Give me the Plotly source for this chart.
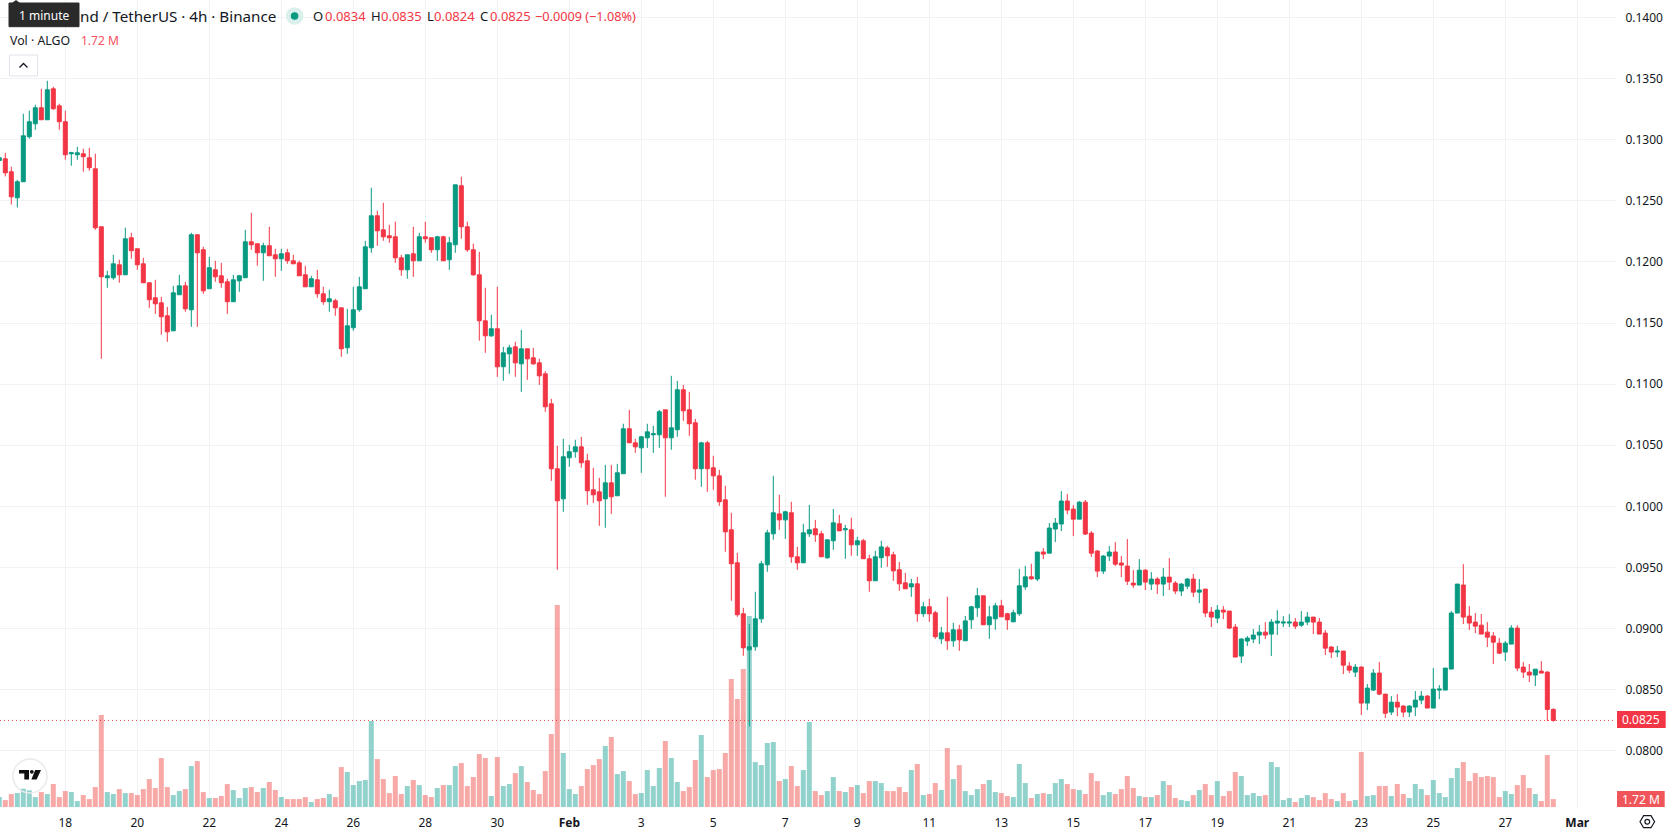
import pandas as pd
import plotly.graph_objects as go

# ALGO/USDT 4h candles, first bar 16 Jan 2023 04:00
first_bar = "2023-01-16 04:00"

opens = [
    0.12829, 0.12843, 0.12737, 0.12524, 0.12655, 0.13023, 0.13129, 0.13260, 0.13162, 0.13415,
    0.13276, 0.13146, 0.12884, 0.12876, 0.12884, 0.12851, 0.12761, 0.12287, 0.11870, 0.11870,
    0.11976, 0.11894, 0.12197, 0.12107, 0.11984, 0.11829, 0.11706, 0.11665, 0.11559, 0.11436,
    0.11731, 0.11804, 0.11608, 0.12222, 0.12099, 0.11780, 0.11935, 0.11886, 0.11837, 0.11674,
    0.11845, 0.11870, 0.12164, 0.12148, 0.12074, 0.12132, 0.12058, 0.12025, 0.12074, 0.12009,
    0.11992, 0.11894, 0.11796, 0.11853, 0.11739, 0.11674, 0.11682, 0.11624, 0.11297, 0.11461,
    0.11608, 0.11780, 0.12115, 0.12377, 0.12262, 0.12213, 0.12205, 0.12033, 0.11935, 0.12066,
    0.12009, 0.12205, 0.12197, 0.12099, 0.12205, 0.12017, 0.12140, 0.12622, 0.12287, 0.12099,
    0.11894, 0.11518, 0.11395, 0.11453, 0.11142, 0.11248, 0.11305, 0.11166, 0.11289, 0.11215,
    0.11174, 0.11084, 0.10839, 0.10308, 0.10062, 0.10398, 0.10447, 0.10487, 0.10373, 0.10136,
    0.10119, 0.10062, 0.10193, 0.10087, 0.10267, 0.10635, 0.10520, 0.10479, 0.10561, 0.10586,
    0.10586, 0.10790, 0.10561, 0.10627, 0.10954, 0.10790, 0.10684, 0.10308, 0.10520, 0.10316,
    0.10250, 0.10054, 0.09809, 0.09539, 0.09122, 0.08827, 0.08852, 0.09081, 0.09523, 0.09776,
    0.09939, 0.09890, 0.09948, 0.09588, 0.09539, 0.09776, 0.09817, 0.09776, 0.09580, 0.09719,
    0.09858, 0.09809, 0.09809, 0.09686, 0.09719, 0.09572, 0.09392, 0.09580, 0.09661, 0.09604,
    0.09482, 0.09375, 0.09342, 0.09367, 0.09122, 0.09179, 0.09130, 0.08917, 0.08966, 0.08901,
    0.08991, 0.08901, 0.09073, 0.09171, 0.09269, 0.09032, 0.09081, 0.09187, 0.09122, 0.09056,
    0.09122, 0.09342, 0.09424, 0.09406, 0.09627, 0.09618, 0.09815, 0.09856, 0.10044, 0.09978,
    0.09896, 0.10035, 0.09782, 0.09635, 0.09471, 0.09594, 0.09627, 0.09537, 0.09512, 0.09373,
    0.09357, 0.09479, 0.09365, 0.09406, 0.09365, 0.09422, 0.09373, 0.09308, 0.09348, 0.09406,
    0.09299, 0.09324, 0.09136, 0.09087, 0.09152, 0.09144, 0.09013, 0.08776, 0.08899, 0.08915,
    0.08948, 0.08972, 0.08956, 0.09046, 0.09046, 0.09046, 0.09054, 0.09029, 0.09054, 0.09095,
    0.09054, 0.08964, 0.08850, 0.08809, 0.08817, 0.08694, 0.08645, 0.08686, 0.08392, 0.08498,
    0.08637, 0.08465, 0.08318, 0.08399, 0.08367, 0.08318, 0.08359, 0.08416, 0.08449, 0.08351,
    0.08498, 0.08498, 0.08670, 0.09128, 0.09357, 0.09103, 0.09054, 0.09029, 0.08972, 0.08940,
    0.08882, 0.08809, 0.08874, 0.09005, 0.08686, 0.08645, 0.08621, 0.08653, 0.08645, 0.08340,
]

highs = [
    0.12870, 0.12892, 0.12778, 0.12671, 0.13211, 0.13236, 0.13285, 0.13415, 0.13481, 0.13432,
    0.13293, 0.13236, 0.12900, 0.12941, 0.12925, 0.12933, 0.12884, 0.12287, 0.11927, 0.12058,
    0.12017, 0.12279, 0.12238, 0.12107, 0.12033, 0.11829, 0.11853, 0.11714, 0.11632, 0.11804,
    0.11894, 0.11837, 0.12238, 0.12222, 0.12123, 0.12041, 0.12009, 0.11992, 0.11862, 0.11894,
    0.11894, 0.12262, 0.12401, 0.12148, 0.12156, 0.12287, 0.12107, 0.12107, 0.12107, 0.12058,
    0.12009, 0.11968, 0.11886, 0.11935, 0.11796, 0.11772, 0.11698, 0.11624, 0.11616, 0.11796,
    0.11878, 0.12172, 0.12606, 0.12418, 0.12483, 0.12303, 0.12328, 0.12058, 0.12058, 0.12287,
    0.12238, 0.12328, 0.12197, 0.12213, 0.12213, 0.12205, 0.12630, 0.12696, 0.12328, 0.12148,
    0.12082, 0.11788, 0.11567, 0.11796, 0.11305, 0.11322, 0.11346, 0.11444, 0.11289, 0.11297,
    0.11207, 0.11106, 0.10880, 0.10496, 0.10553, 0.10504, 0.10545, 0.10569, 0.10430, 0.10316,
    0.10234, 0.10340, 0.10340, 0.10348, 0.10676, 0.10790, 0.10553, 0.10577, 0.10676, 0.10659,
    0.10790, 0.10790, 0.11068, 0.11027, 0.10994, 0.10937, 0.10716, 0.10528, 0.10536, 0.10414,
    0.10299, 0.10169, 0.09948, 0.09621, 0.09171, 0.09040, 0.09302, 0.09555, 0.09809, 0.10250,
    0.10095, 0.09964, 0.10038, 0.09670, 0.09858, 0.10013, 0.09890, 0.09800, 0.09727, 0.09980,
    0.09931, 0.09849, 0.09907, 0.09751, 0.09735, 0.09604, 0.09637, 0.09719, 0.09678, 0.09629,
    0.09547, 0.09457, 0.09408, 0.09424, 0.09220, 0.09244, 0.09146, 0.09015, 0.09261, 0.09048,
    0.09032, 0.09105, 0.09187, 0.09334, 0.09269, 0.09187, 0.09212, 0.09236, 0.09130, 0.09154,
    0.09490, 0.09514, 0.09531, 0.09627, 0.09659, 0.09864, 0.09905, 0.10125, 0.10101, 0.10011,
    0.10044, 0.10052, 0.09798, 0.09643, 0.09602, 0.09676, 0.09708, 0.09594, 0.09733, 0.09479,
    0.09569, 0.09487, 0.09463, 0.09422, 0.09496, 0.09577, 0.09389, 0.09373, 0.09414, 0.09447,
    0.09406, 0.09324, 0.09177, 0.09193, 0.09185, 0.09144, 0.09038, 0.08923, 0.08940, 0.08997,
    0.09029, 0.09054, 0.09079, 0.09152, 0.09103, 0.09119, 0.09087, 0.09144, 0.09136, 0.09095,
    0.09087, 0.08989, 0.08858, 0.08858, 0.08817, 0.08727, 0.08711, 0.08694, 0.08547, 0.08670,
    0.08727, 0.08465, 0.08449, 0.08465, 0.08375, 0.08375, 0.08490, 0.08490, 0.08457, 0.08678,
    0.08539, 0.08678, 0.09144, 0.09365, 0.09528, 0.09185, 0.09128, 0.09120, 0.09054, 0.08972,
    0.08923, 0.08899, 0.09029, 0.09029, 0.08727, 0.08711, 0.08669, 0.08735, 0.08653, 0.08350,
]

lows = [
    0.12810, 0.12699, 0.12469, 0.12445, 0.12655, 0.13007, 0.13080, 0.13162, 0.13162, 0.13244,
    0.13080, 0.12835, 0.12786, 0.12835, 0.12737, 0.12745, 0.12262, 0.11207, 0.11788, 0.11853,
    0.11829, 0.11894, 0.12025, 0.11935, 0.11829, 0.11624, 0.11575, 0.11404, 0.11346, 0.11436,
    0.11731, 0.11592, 0.11469, 0.11469, 0.11739, 0.11780, 0.11837, 0.11788, 0.11575, 0.11674,
    0.11755, 0.11870, 0.12099, 0.11968, 0.11845, 0.12050, 0.11878, 0.11927, 0.11984, 0.11984,
    0.11886, 0.11796, 0.11796, 0.11706, 0.11649, 0.11592, 0.11559, 0.11224, 0.11248, 0.11436,
    0.11592, 0.11780, 0.12074, 0.12132, 0.12172, 0.12156, 0.11992, 0.11886, 0.11862, 0.11878,
    0.12009, 0.12156, 0.12074, 0.12009, 0.12009, 0.11935, 0.12074, 0.12189, 0.12082, 0.11886,
    0.11355, 0.11256, 0.11387, 0.11060, 0.11027, 0.11084, 0.11060, 0.10937, 0.11035, 0.11158,
    0.10994, 0.10774, 0.10209, 0.09482, 0.09956, 0.10324, 0.10398, 0.10316, 0.10013, 0.10029,
    0.09841, 0.09825, 0.09939, 0.10087, 0.10267, 0.10520, 0.10438, 0.10275, 0.10479, 0.10438,
    0.10479, 0.10079, 0.10463, 0.10569, 0.10700, 0.10577, 0.10218, 0.10160, 0.10119, 0.10136,
    0.10005, 0.09629, 0.09228, 0.09097, 0.08778, 0.08200, 0.08819, 0.09048, 0.09465, 0.09727,
    0.09809, 0.09735, 0.09539, 0.09482, 0.09539, 0.09751, 0.09710, 0.09588, 0.09572, 0.09645,
    0.09800, 0.09572, 0.09596, 0.09596, 0.09572, 0.09302, 0.09392, 0.09498, 0.09506, 0.09392,
    0.09309, 0.09326, 0.09261, 0.09056, 0.09097, 0.09056, 0.08917, 0.08876, 0.08827, 0.08852,
    0.08819, 0.08901, 0.08999, 0.09097, 0.09032, 0.08917, 0.08991, 0.09097, 0.08991, 0.09056,
    0.09105, 0.09318, 0.09400, 0.09389, 0.09569, 0.09618, 0.09708, 0.09798, 0.09937, 0.09757,
    0.09896, 0.09766, 0.09586, 0.09422, 0.09447, 0.09553, 0.09512, 0.09422, 0.09357, 0.09332,
    0.09357, 0.09316, 0.09316, 0.09283, 0.09267, 0.09316, 0.09283, 0.09267, 0.09324, 0.09259,
    0.09209, 0.09095, 0.09013, 0.09046, 0.09078, 0.08997, 0.08768, 0.08719, 0.08858, 0.08882,
    0.08874, 0.08915, 0.08776, 0.08948, 0.09013, 0.09013, 0.08997, 0.09013, 0.09029, 0.08956,
    0.08956, 0.08784, 0.08760, 0.08768, 0.08629, 0.08637, 0.08604, 0.08294, 0.08334, 0.08490,
    0.08457, 0.08269, 0.08294, 0.08285, 0.08277, 0.08277, 0.08285, 0.08383, 0.08351, 0.08351,
    0.08424, 0.08498, 0.08670, 0.09128, 0.09038, 0.08989, 0.08964, 0.08956, 0.08850, 0.08711,
    0.08792, 0.08735, 0.08874, 0.08653, 0.08596, 0.08564, 0.08531, 0.08637, 0.08244, 0.08240,
]

closes = [
    0.12851, 0.12728, 0.12532, 0.12655, 0.13031, 0.13146, 0.13260, 0.13162, 0.13407, 0.13252,
    0.13146, 0.12876, 0.12892, 0.12892, 0.12860, 0.12770, 0.12279, 0.11878, 0.11886, 0.11984,
    0.11894, 0.12189, 0.12091, 0.11976, 0.11829, 0.11690, 0.11657, 0.11551, 0.11428, 0.11747,
    0.11804, 0.11616, 0.12222, 0.12074, 0.11763, 0.11952, 0.11878, 0.11829, 0.11674, 0.11853,
    0.11886, 0.12164, 0.12140, 0.12074, 0.12132, 0.12050, 0.12025, 0.12066, 0.12009, 0.11984,
    0.11886, 0.11796, 0.11862, 0.11739, 0.11674, 0.11698, 0.11624, 0.11289, 0.11477, 0.11608,
    0.11796, 0.12123, 0.12377, 0.12254, 0.12205, 0.12197, 0.12033, 0.11935, 0.12058, 0.12009,
    0.12205, 0.12189, 0.12099, 0.12205, 0.12009, 0.12156, 0.12630, 0.12287, 0.12099, 0.11894,
    0.11518, 0.11395, 0.11453, 0.11142, 0.11256, 0.11297, 0.11174, 0.11289, 0.11207, 0.11166,
    0.11068, 0.10815, 0.10308, 0.10046, 0.10406, 0.10447, 0.10487, 0.10357, 0.10128, 0.10095,
    0.10046, 0.10193, 0.10079, 0.10275, 0.10635, 0.10520, 0.10487, 0.10569, 0.10610, 0.10594,
    0.10774, 0.10561, 0.10643, 0.10954, 0.10782, 0.10676, 0.10308, 0.10520, 0.10308, 0.10250,
    0.10038, 0.09792, 0.09531, 0.09114, 0.08844, 0.08852, 0.09081, 0.09531, 0.09784, 0.09948,
    0.09890, 0.09956, 0.09588, 0.09539, 0.09784, 0.09809, 0.09768, 0.09588, 0.09727, 0.09866,
    0.09800, 0.09817, 0.09686, 0.09719, 0.09572, 0.09392, 0.09588, 0.09669, 0.09596, 0.09473,
    0.09367, 0.09326, 0.09367, 0.09122, 0.09179, 0.09122, 0.08934, 0.08966, 0.08901, 0.08991,
    0.08909, 0.09064, 0.09179, 0.09269, 0.09032, 0.09097, 0.09187, 0.09097, 0.09073, 0.09130,
    0.09351, 0.09424, 0.09408, 0.09627, 0.09610, 0.09823, 0.09864, 0.10044, 0.09970, 0.09896,
    0.10035, 0.09774, 0.09618, 0.09471, 0.09594, 0.09627, 0.09528, 0.09520, 0.09389, 0.09357,
    0.09479, 0.09381, 0.09406, 0.09365, 0.09422, 0.09381, 0.09308, 0.09365, 0.09406, 0.09299,
    0.09316, 0.09128, 0.09095, 0.09152, 0.09136, 0.09005, 0.08768, 0.08915, 0.08923, 0.08948,
    0.08972, 0.08948, 0.09054, 0.09062, 0.09054, 0.09054, 0.09021, 0.09054, 0.09095, 0.09054,
    0.08956, 0.08841, 0.08809, 0.08817, 0.08702, 0.08661, 0.08686, 0.08392, 0.08514, 0.08637,
    0.08465, 0.08309, 0.08399, 0.08359, 0.08318, 0.08367, 0.08416, 0.08449, 0.08351, 0.08506,
    0.08506, 0.08678, 0.09128, 0.09365, 0.09095, 0.09046, 0.09021, 0.08956, 0.08931, 0.08890,
    0.08800, 0.08882, 0.09005, 0.08678, 0.08645, 0.08621, 0.08669, 0.08637, 0.08340, 0.08250,
]

# Volume per bar, in millions of ALGO
volumes_m = [
    2.15, 1.51, 2.80, 3.01, 3.94, 3.59, 2.15, 3.23, 2.80, 4.95,
    2.15, 3.44, 3.23, 1.29, 2.58, 1.72, 4.30, 19.79, 3.23, 2.80,
    3.87, 3.01, 3.01, 2.58, 3.87, 6.02, 4.09, 10.54, 4.30, 2.58,
    3.44, 3.87, 8.82, 9.89, 3.23, 1.94, 1.94, 2.37, 4.95, 3.66,
    1.94, 4.09, 4.30, 3.23, 4.09, 5.38, 3.66, 2.15, 1.72, 1.72,
    1.72, 2.15, 1.08, 1.72, 1.94, 2.80, 2.15, 8.60, 7.53, 4.73,
    5.59, 5.81, 18.50, 10.32, 6.02, 3.01, 6.67, 2.80, 4.52, 5.81,
    4.73, 2.58, 2.15, 4.09, 4.73, 4.73, 8.82, 9.46, 4.52, 6.45,
    11.40, 10.54, 2.37, 10.76, 4.52, 4.95, 7.31, 8.82, 5.38, 3.66,
    2.80, 7.74, 15.70, 43.45, 11.62, 3.87, 2.80, 4.52, 8.17, 9.03,
    10.32, 13.12, 15.06, 7.10, 7.74, 5.59, 2.80, 3.01, 7.96, 4.52,
    8.39, 14.20, 10.54, 5.38, 3.44, 4.30, 10.11, 15.49, 6.45, 7.96,
    8.17, 11.62, 27.53, 23.23, 29.68, 41.08, 9.68, 9.03, 13.77, 13.98,
    5.59, 6.02, 8.82, 4.52, 7.96, 18.28, 3.44, 2.58, 3.44, 6.45,
    3.44, 3.23, 4.30, 4.73, 3.01, 5.59, 5.59, 5.16, 3.44, 3.44,
    4.30, 3.23, 7.96, 9.25, 2.58, 2.80, 5.16, 3.66, 12.69, 6.02,
    9.03, 3.44, 2.58, 3.87, 4.95, 5.81, 3.23, 3.01, 2.37, 2.15,
    9.25, 5.16, 1.94, 2.80, 3.01, 2.80, 5.16, 6.02, 4.95, 3.87,
    3.66, 2.80, 7.31, 5.59, 2.58, 3.23, 2.80, 3.87, 6.67, 4.09,
    2.37, 2.15, 2.15, 2.58, 5.59, 4.73, 1.94, 1.51, 1.29, 2.58,
    3.66, 4.95, 2.58, 5.59, 2.37, 3.44, 7.53, 6.67, 2.58, 3.01,
    2.37, 2.58, 9.68, 8.60, 1.51, 1.94, 1.08, 1.94, 2.58, 2.15,
    1.51, 3.01, 1.72, 1.29, 3.01, 1.29, 1.51, 11.83, 2.37, 2.58,
    4.52, 4.52, 2.37, 4.95, 2.80, 1.94, 4.95, 3.87, 2.58, 5.81,
    3.01, 2.15, 6.24, 8.39, 9.68, 5.59, 7.31, 6.45, 6.67, 6.45,
    2.15, 3.44, 2.80, 4.73, 6.88, 4.09, 2.80, 1.29, 11.19, 1.72,
]

tick_dates = [
    "2023-01-18", "2023-01-20", "2023-01-22", "2023-01-24", "2023-01-26", "2023-01-28",
    "2023-01-30", "2023-02-01", "2023-02-03", "2023-02-05", "2023-02-07", "2023-02-09",
    "2023-02-11", "2023-02-13", "2023-02-15", "2023-02-17", "2023-02-19", "2023-02-21",
    "2023-02-23", "2023-02-25", "2023-02-27", "2023-03-01",
]
tick_labels = [
    "18", "20", "22", "24", "26", "28", "30", "<b>Feb</b>", "3", "5", "7", "9", "11", "13",
    "15", "17", "19", "21", "23", "25", "27", "<b>Mar</b>",
]
price_ticks = [0.08, 0.085, 0.09, 0.095, 0.10, 0.105, 0.11, 0.115, 0.12, 0.125, 0.13, 0.135, 0.14]
last_price = 0.0825

UP = "#089981"
DOWN = "#f23645"
UP_VOL = "rgba(38,166,154,0.5)"
DOWN_VOL = "rgba(239,83,80,0.5)"
GRID = "#f1f2f5"
INK = "#131722"
FONT = "Noto Sans"

WIDTH, HEIGHT = 1678, 835
PANE_W, PANE_H = 1616, 808

bars = pd.date_range(first_bar, periods=len(opens), freq="4h")
bar_colors = [UP_VOL if c >= o else DOWN_VOL for o, c in zip(opens, closes)]

# Time scale: 36 px per day with 1 Feb sitting 569.3 px from the left edge
day_px = 36.0
feb_first = pd.Timestamp("2023-02-01")
x_start = feb_first - pd.Timedelta(days=569.3 / day_px)
x_end = x_start + pd.Timedelta(days=PANE_W / day_px)


def px(x):
    return x / PANE_W


def py(y):
    return 1 - y / PANE_H


def box(x0, y0, x1, y1, **kw):
    return dict(type="rect", xref="paper", yref="paper",
                x0=px(x0), y0=py(y0), x1=px(x1), y1=py(y1), **kw)


def ring(cx, cy, r, **kw):
    return dict(type="circle", xref="paper", yref="paper",
                x0=px(cx - r), y0=py(cy - r), x1=px(cx + r), y1=py(cy + r), **kw)


def poly(points, closed=True, **kw):
    d = "M " + " L ".join(f"{px(a):.6f} {py(b):.6f}" for a, b in points)
    return dict(type="path", xref="paper", yref="paper", path=d + (" Z" if closed else ""), **kw)


def label(x, y, text, color=INK, size=13, anchor="left", bold=False):
    return dict(x=px(x), y=py(y), xref="paper", yref="paper", xanchor=anchor, yanchor="middle",
                text=f"<b>{text}</b>" if bold else text, showarrow=False,
                font=dict(family=FONT, size=size, color=color), borderpad=0)


fig = go.Figure()

fig.add_trace(go.Bar(
    x=bars, y=volumes_m, marker=dict(color=bar_colors, line=dict(width=0)),
    yaxis="y", hoverinfo="skip", showlegend=False,
))
fig.add_trace(go.Candlestick(
    x=bars, open=opens, high=highs, low=lows, close=closes, yaxis="y2",
    increasing=dict(line=dict(color=UP, width=1), fillcolor=UP),
    decreasing=dict(line=dict(color=DOWN, width=1), fillcolor=DOWN),
    whiskerwidth=0, hoverinfo="skip", showlegend=False,
))

shapes = [
    # last-price marker line
    dict(type="line", xref="paper", yref="y2", x0=0, x1=1, y0=last_price, y1=last_price,
         line=dict(color=DOWN, width=1, dash="1px,3px"), layer="above"),
    # axis value tags
    box(1617, 711, 1665.7, 728, fillcolor=DOWN, line=dict(width=0)),
    box(1617, 791, 1664.7, 807, fillcolor="#f05659", line=dict(width=0)),
    # market status dot
    ring(294.6, 16, 8.8, fillcolor="#d9f0ed", line=dict(width=0)),
    ring(294.6, 16, 3.8, fillcolor=UP, line=dict(width=0)),
    # collapse button
    box(9.5, 55, 37.5, 76, fillcolor="white", line=dict(color="#e0e3eb", width=1)),
    poly([(19.5, 67.5), (23.5, 63.5), (27.5, 67.5)], closed=False,
         line=dict(color=INK, width=1.3)),
    # tooltip
    box(9, 3, 79, 26.7, fillcolor="#2a2a2a", line=dict(color="#2a2a2a", width=1)),
    poly([(12, 3), (16, 0), (20, 3)], fillcolor="#2a2a2a", line=dict(width=0)),
    # logo badge
    ring(30, 776, 17, fillcolor="rgba(255,255,255,0)", line=dict(color="#e9eaec", width=1.5)),
    poly([(19, 770), (29, 770), (29, 779.5), (24.3, 779.5), (24.3, 773.5), (19, 773.5)],
         fillcolor="#111111", line=dict(width=0)),
    ring(31.8, 771.8, 1.9, fillcolor="#111111", line=dict(width=0)),
    poly([(35.2, 770), (41, 770), (36.6, 779.5), (31.4, 779.5)], fillcolor="#111111",
         line=dict(width=0)),
    # settings cog
    poly([(1640, 821.7), (1643.6, 815.7), (1651, 815.7), (1654.6, 821.7), (1651, 827.7),
          (1643.6, 827.7)], fillcolor="white", line=dict(color=INK, width=1.2)),
    ring(1647.3, 821.7, 2.4, fillcolor="white", line=dict(color=INK, width=1.2)),
]

annotations = [
    label(79, 16, "nd / TetherUS · 4h · Binance", size=15.2),
    label(44, 15, "1 minute", color="white", size=12, anchor="center"),
    label(312, 16, "O"),
    label(324, 16, "0.0834", color=DOWN),
    label(370, 16, "H"),
    label(380, 16, "0.0835", color=DOWN),
    label(426, 16, "L"),
    label(433, 16, "0.0824", color=DOWN),
    label(479, 16, "C"),
    label(488.5, 16, "0.0825", color=DOWN),
    label(534, 16, "−0.0009 (−1.08%)", color=DOWN, size=12.7),
    label(9, 40.5, "Vol · ALGO", size=12.3),
    label(79.5, 40.5, "1.72 M", color="#f7525f", size=12),
    label(1641, 719.5, "0.0825", color="white", size=12, anchor="center"),
    label(1641, 799, "1.72 M", color="white", size=12, anchor="center"),
]

fig.update_layout(
    width=WIDTH, height=HEIGHT, autosize=False,
    margin=dict(l=0, r=WIDTH - PANE_W, t=0, b=HEIGHT - PANE_H, pad=0),
    paper_bgcolor="white", plot_bgcolor="white",
    showlegend=False, bargap=1 / 6, boxgap=0.2, boxgroupgap=0.167,
    shapes=shapes, annotations=annotations, dragmode=False,
    font=dict(family=FONT, size=12, color=INK),
    xaxis=dict(
        type="date", range=[x_start, x_end], rangeslider=dict(visible=False),
        tickmode="array", tickvals=tick_dates, ticktext=tick_labels, tickangle=0,
        showgrid=True, gridcolor=GRID, gridwidth=1, zeroline=False, showline=False,
        ticks="outside", ticklen=4, tickcolor="rgba(0,0,0,0)",
        tickfont=dict(family=FONT, size=12, color=INK),
    ),
    yaxis=dict(
        range=[-0.2, 173.5], showgrid=False, zeroline=False, showline=False,
        showticklabels=False, ticks="",
    ),
    yaxis2=dict(
        overlaying="y", side="right", anchor="x", range=[0.075337, 0.141415],
        tickmode="array", tickvals=price_ticks, tickformat=".4f",
        showgrid=True, gridcolor=GRID, gridwidth=1, zeroline=False, showline=False,
        ticks="outside", ticklen=6, tickcolor="rgba(0,0,0,0)",
        tickfont=dict(family=FONT, size=12, color=INK),
    ),
)

fig.write_html("out.html", config=dict(displayModeBar=False, staticPlot=True))
